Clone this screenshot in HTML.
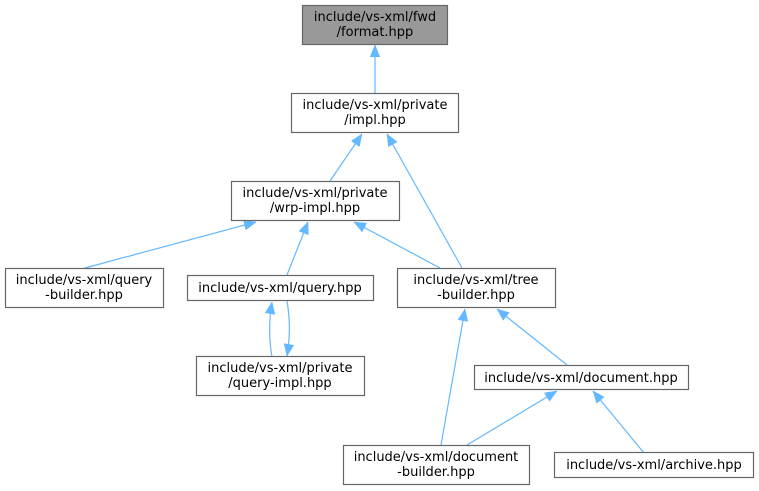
<!DOCTYPE html>
<html><head><meta charset="utf-8"><style>
html,body{margin:0;padding:0;background:#fff;width:759px;height:491px;overflow:hidden}
text{font-family:"DejaVu Sans","Liberation Sans",sans-serif;font-size:13px;fill:#000;text-anchor:middle}
rect{stroke:#666;stroke-width:1.2}
line,path{stroke:#63b8ff;stroke-width:1.2;fill:none}
</style></head><body>
<svg width="759" height="491" viewBox="0 0 759 491" xmlns="http://www.w3.org/2000/svg">
<defs><marker id="a" viewBox="0 0 12 10" refX="12" refY="5" markerWidth="12" markerHeight="10" markerUnits="userSpaceOnUse" orient="auto"><path d="M0,0 L12,5 L0,10 z" style="fill:#63b8ff;stroke:#63b8ff;stroke-width:0.5"/></marker></defs>
<line x1="375" y1="93" x2="375" y2="45" marker-end="url(#a)"/>
<line x1="330" y1="181" x2="362" y2="134" marker-end="url(#a)"/>
<line x1="462" y1="268" x2="387" y2="134" marker-end="url(#a)"/>
<line x1="85" y1="268" x2="256" y2="222" marker-end="url(#a)"/>
<line x1="287" y1="275" x2="308" y2="222" marker-end="url(#a)"/>
<line x1="440" y1="268" x2="354" y2="222" marker-end="url(#a)"/>
<path d="M272,357 C269,340 269,320 272,302" marker-end="url(#a)"/>
<path d="M287,301 C290,318 290,338 287,356" marker-end="url(#a)"/>
<line x1="441" y1="445" x2="465" y2="309" marker-end="url(#a)"/>
<line x1="567" y1="365" x2="497" y2="309" marker-end="url(#a)"/>
<line x1="467" y1="445" x2="557" y2="391" marker-end="url(#a)"/>
<line x1="644" y1="453" x2="593" y2="391" marker-end="url(#a)"/>
<rect x="302.5" y="5.5" width="145" height="39" style="fill:#999"/>
<text x="375" y="21">include/vs-xml/fwd</text><text x="375" y="36">/format.hpp</text>
<rect x="291.5" y="93.5" width="167" height="39" style="fill:#fff"/>
<text x="375" y="109">include/vs-xml/private</text><text x="375" y="124">/impl.hpp</text>
<rect x="231.5" y="181.5" width="168" height="39" style="fill:#fff"/>
<text x="315" y="197">include/vs-xml/private</text><text x="315" y="212">/wrp-impl.hpp</text>
<rect x="5.5" y="268.5" width="158" height="39" style="fill:#fff"/>
<text x="84" y="284">include/vs-xml/query</text><text x="84" y="299">-builder.hpp</text>
<rect x="187.5" y="275.5" width="186" height="25" style="fill:#fff"/>
<text x="280" y="292">include/vs-xml/query.hpp</text>
<rect x="397.5" y="268.5" width="158" height="39" style="fill:#fff"/>
<text x="476" y="284">include/vs-xml/tree</text><text x="476" y="299">-builder.hpp</text>
<rect x="196.5" y="356.5" width="168" height="39" style="fill:#fff"/>
<text x="280" y="372">include/vs-xml/private</text><text x="280" y="387">/query-impl.hpp</text>
<rect x="474.5" y="365.5" width="214" height="24" style="fill:#fff"/>
<text x="581" y="382">include/vs-xml/document.hpp</text>
<rect x="343.5" y="445.5" width="186" height="39" style="fill:#fff"/>
<text x="436" y="461">include/vs-xml/document</text><text x="436" y="476">-builder.hpp</text>
<rect x="554.5" y="452.5" width="199" height="25" style="fill:#fff"/>
<text x="654" y="469">include/vs-xml/archive.hpp</text>
</svg>
</body></html>
